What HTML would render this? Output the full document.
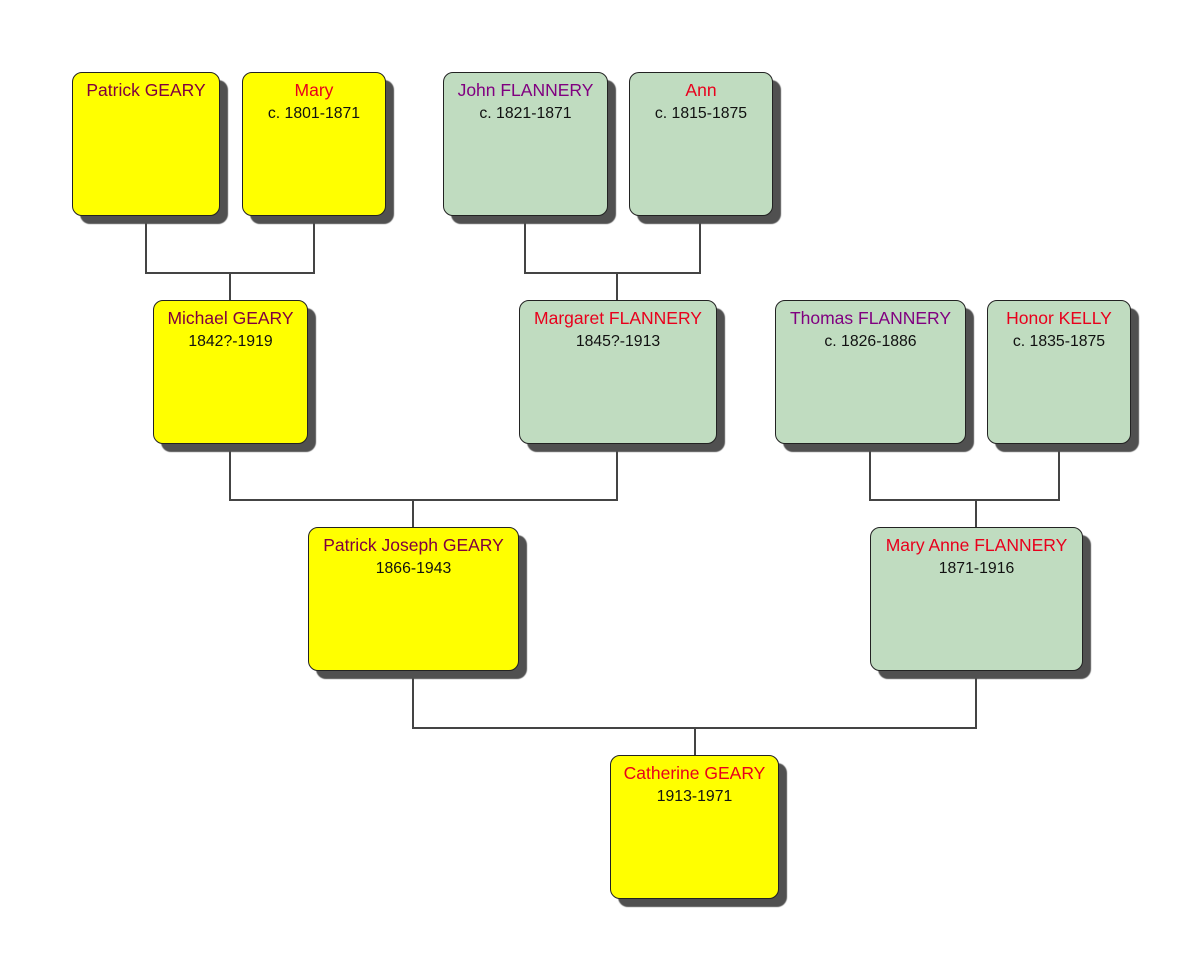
<!DOCTYPE html>
<html><head><meta charset="utf-8"><style>
body{margin:0;width:1203px;height:971px;background:#fff;position:relative;overflow:hidden;font-family:"Liberation Sans",Arial,sans-serif}
.b{position:absolute;box-sizing:border-box;border:1px solid #222;border-radius:10px;box-shadow:8px 8px 1px #505050;text-align:center}
.y{background:#ffff00}.g{background:#c0dcc0}
.n{font-size:17.5px;margin-top:7px;line-height:20px;white-space:nowrap}
.d{font-size:15.8px;line-height:18px;color:#111;margin-top:5px;white-space:nowrap}
.m{color:#80003f}.r{color:#e8001c}.p{color:#800080}
.l{position:absolute;background:#444}
</style></head><body>
<div class="l" style="left:145px;top:215px;width:2px;height:59px"></div>
<div class="l" style="left:313px;top:215px;width:2px;height:59px"></div>
<div class="l" style="left:145px;top:272px;width:170px;height:2px"></div>
<div class="l" style="left:229px;top:272px;width:2px;height:28px"></div>

<div class="l" style="left:524px;top:215px;width:2px;height:59px"></div>
<div class="l" style="left:699px;top:215px;width:2px;height:59px"></div>
<div class="l" style="left:524px;top:272px;width:177px;height:2px"></div>
<div class="l" style="left:616px;top:272px;width:2px;height:28px"></div>

<div class="l" style="left:229px;top:443px;width:2px;height:58px"></div>
<div class="l" style="left:616px;top:443px;width:2px;height:58px"></div>
<div class="l" style="left:229px;top:499px;width:389px;height:2px"></div>
<div class="l" style="left:412px;top:499px;width:2px;height:28px"></div>

<div class="l" style="left:869px;top:443px;width:2px;height:58px"></div>
<div class="l" style="left:1058px;top:443px;width:2px;height:58px"></div>
<div class="l" style="left:869px;top:499px;width:191px;height:2px"></div>
<div class="l" style="left:975px;top:499px;width:2px;height:28px"></div>

<div class="l" style="left:412px;top:670px;width:2px;height:59px"></div>
<div class="l" style="left:975px;top:670px;width:2px;height:59px"></div>
<div class="l" style="left:412px;top:727px;width:565px;height:2px"></div>
<div class="l" style="left:694px;top:727px;width:2px;height:28px"></div>

<div class="b y" style="left:72px;top:72px;width:148px;height:144px"><div class="n m">Patrick GEARY</div></div>
<div class="b y" style="left:242px;top:72px;width:144px;height:144px"><div class="n r">Mary</div><div class="d">c. 1801-1871</div></div>
<div class="b g" style="left:443px;top:72px;width:165px;height:144px"><div class="n p">John FLANNERY</div><div class="d">c. 1821-1871</div></div>
<div class="b g" style="left:629px;top:72px;width:144px;height:144px"><div class="n r">Ann</div><div class="d">c. 1815-1875</div></div>

<div class="b y" style="left:153px;top:300px;width:155px;height:144px"><div class="n m">Michael GEARY</div><div class="d">1842?-1919</div></div>
<div class="b g" style="left:519px;top:300px;width:198px;height:144px"><div class="n r">Margaret FLANNERY</div><div class="d">1845?-1913</div></div>
<div class="b g" style="left:775px;top:300px;width:191px;height:144px"><div class="n p">Thomas FLANNERY</div><div class="d">c. 1826-1886</div></div>
<div class="b g" style="left:987px;top:300px;width:144px;height:144px"><div class="n r">Honor KELLY</div><div class="d">c. 1835-1875</div></div>

<div class="b y" style="left:308px;top:527px;width:211px;height:144px"><div class="n m">Patrick Joseph GEARY</div><div class="d">1866-1943</div></div>
<div class="b g" style="left:870px;top:527px;width:213px;height:144px"><div class="n r">Mary Anne FLANNERY</div><div class="d">1871-1916</div></div>

<div class="b y" style="left:610px;top:755px;width:169px;height:144px"><div class="n r">Catherine GEARY</div><div class="d">1913-1971</div></div>
</body></html>
